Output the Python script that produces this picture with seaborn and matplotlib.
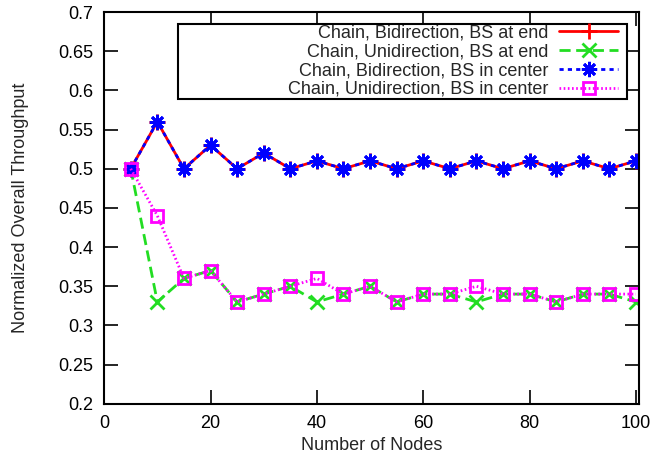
import seaborn as sns
import matplotlib.pyplot as plt
import matplotlib.patches as patches
import pandas as pd

# number of nodes on x-axis
nodes = [5, 10, 15, 20, 25, 30, 35, 40, 45, 50, 55, 60, 65, 70, 75, 80, 85, 90, 95, 100]

# throughput values
bi_end = [0.5, 0.56, 0.5, 0.53, 0.5, 0.52, 0.5, 0.51, 0.5, 0.51,
          0.5, 0.51, 0.5, 0.51, 0.5, 0.51, 0.5, 0.51, 0.5, 0.51]
uni_end = [0.5, 0.33, 0.36, 0.37, 0.33, 0.34, 0.35, 0.33, 0.34, 0.35,
           0.33, 0.34, 0.34, 0.33, 0.34, 0.34, 0.33, 0.34, 0.34, 0.33]
bi_center = [0.5, 0.56, 0.5, 0.53, 0.5, 0.52, 0.5, 0.51, 0.5, 0.51,
             0.5, 0.51, 0.5, 0.51, 0.5, 0.51, 0.5, 0.51, 0.5, 0.51]
uni_center = [0.5, 0.44, 0.36, 0.37, 0.33, 0.34, 0.35, 0.36, 0.34, 0.35,
              0.33, 0.34, 0.34, 0.35, 0.34, 0.34, 0.33, 0.34, 0.34, 0.34]

labels = ["Chain, Bidirection, BS at end",
          "Chain, Unidirection, BS at end",
          "Chain, Bidirection, BS in center",
          "Chain, Unidirection, BS in center"]

sns.set_style("ticks")
plt.rcParams['font.family'] = ['Liberation Sans', 'DejaVu Sans']
fs = 13

fig = plt.figure(figsize=(6.51, 4.62), dpi=100)
ax = fig.add_axes([0.16, 0.126, 0.821, 0.848])

series = [bi_end, uni_end, bi_center, uni_center]
colors = ["#ff0000", "#22dd22", "#0000ff", "#ff00ff"]
markers = ["+", "x", (8, 2, 0), "s"]
dashes = [(None, None), (4, 2), (1.5, 1.5), (0.6, 0.9)]
msizes = [11, 10, 11, 9]

for vals, lab, col, mk, ds, ms in zip(series, labels, colors, markers, dashes, msizes):
    df = pd.DataFrame({"Nodes": nodes, "Throughput": vals})
    sns.lineplot(x="Nodes", y="Throughput", data=df, ax=ax, color=col,
                 marker=mk, markersize=ms, linewidth=2, label=lab,
                 markeredgewidth=2, markerfacecolor="none" if mk == "s" else col,
                 markeredgecolor=col)
    if ds[0] is not None:
        ax.lines[-1].set_dashes(ds)

ax.set_xlim(0, 100.5)
ax.set_ylim(0.2, 0.7)
ax.set_xticks([0, 20, 40, 60, 80, 100])
ax.set_yticks([0.2, 0.25, 0.3, 0.35, 0.4, 0.45, 0.5, 0.55, 0.6, 0.65, 0.7])
ax.set_yticklabels(["0.2", "0.25", "0.3", "0.35", "0.4", "0.45", "0.5",
                    "0.55", "0.6", "0.65", "0.7"])
ax.tick_params(direction="in", length=10, width=1.2, top=True, right=True,
               labelsize=fs, colors="black", pad=8)
for s in ax.spines.values():
    s.set_visible(True)
    s.set_linewidth(1.5)
    s.set_color("black")

ax.set_xlabel("Number of Nodes", fontsize=fs, labelpad=4)
ax.set_ylabel("Normalized Overall Throughput", fontsize=fs, labelpad=21)

# gnuplot-style key box, wider than its contents
ax.add_patch(patches.Rectangle((0.138, 0.778), 0.840, 0.191, transform=ax.transAxes,
                               fill=True, facecolor="white", edgecolor="black",
                               linewidth=1.5, zorder=4))
leg = ax.legend(loc="upper right", bbox_to_anchor=(0.962, 0.968), markerfirst=False,
                frameon=False, fontsize=fs, handlelength=3.3,
                labelspacing=0.1, borderpad=0, handletextpad=0.55,
                borderaxespad=0)
leg.set_zorder(5)

fig.savefig("out.png", dpi=100)
